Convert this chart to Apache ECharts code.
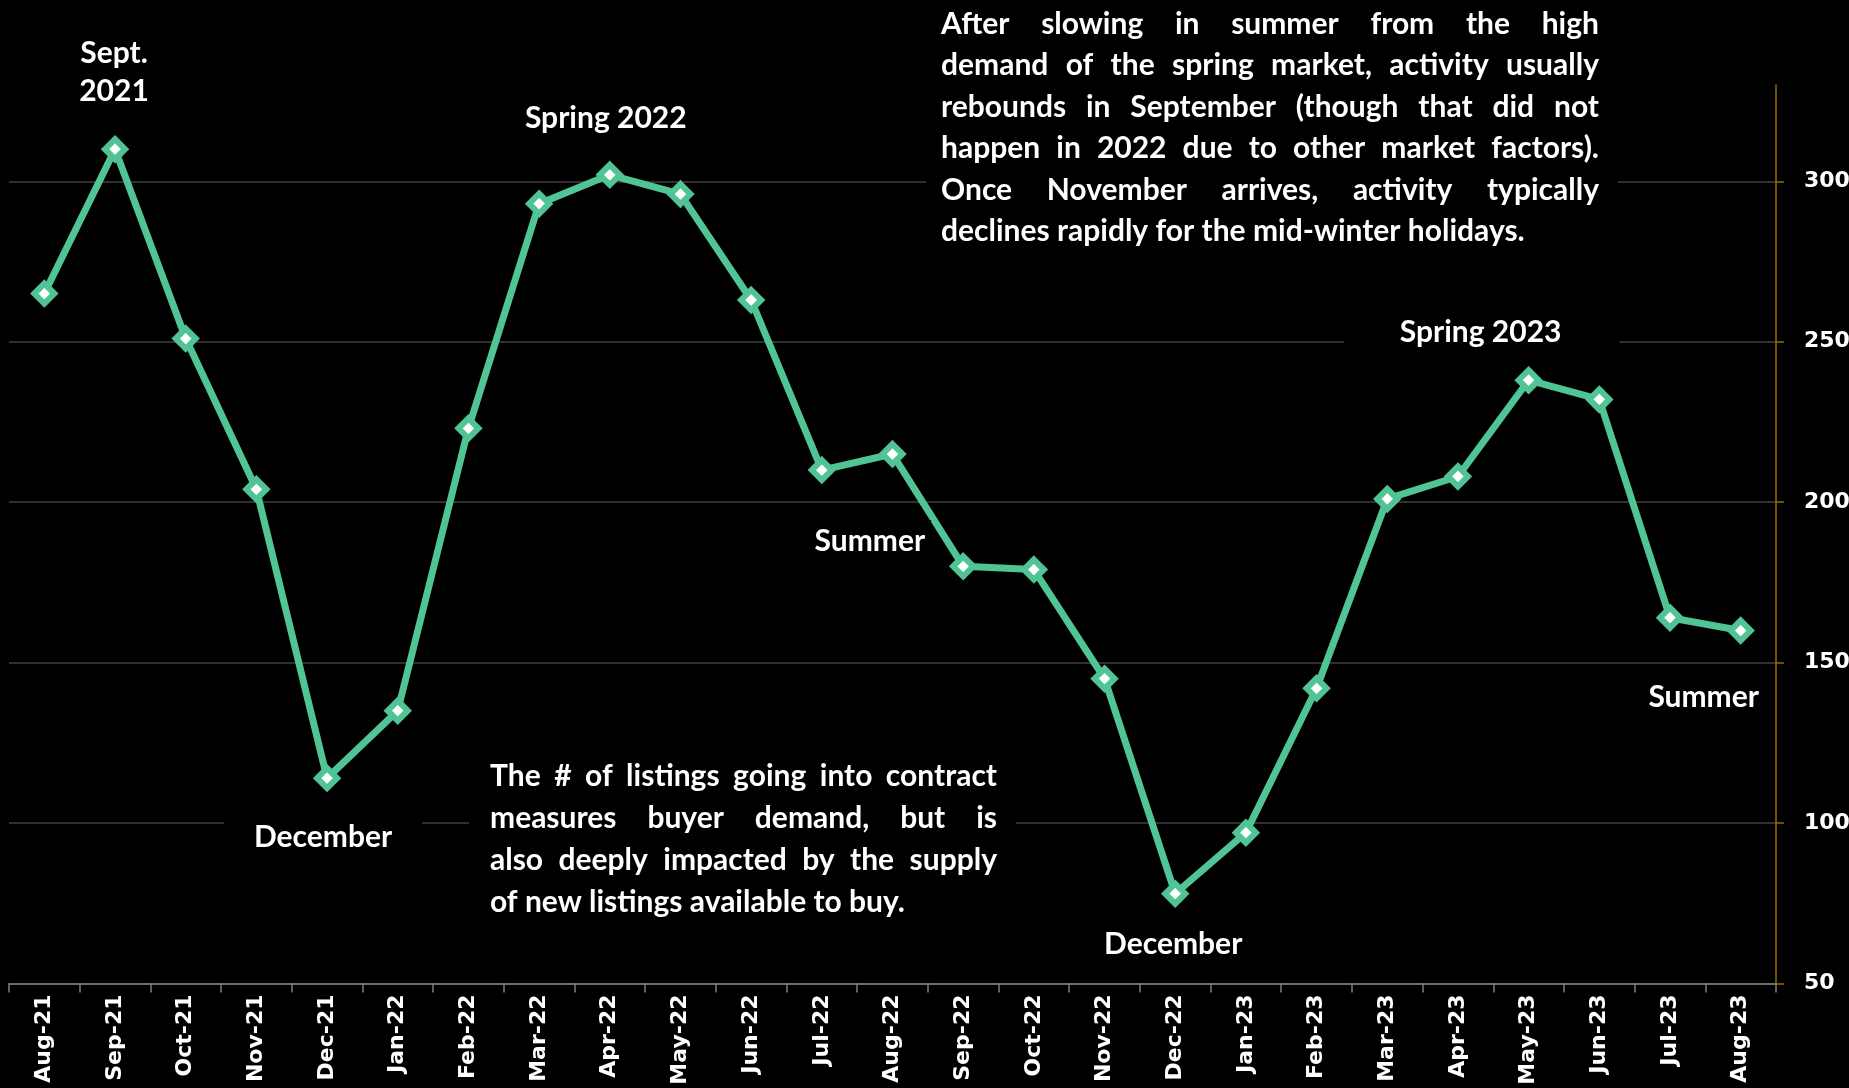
<!DOCTYPE html>
<html>
<head>
<meta charset="utf-8">
<title>Listings going into contract</title>
<script src="https://cdn.jsdelivr.net/npm/echarts@6.0.0/dist/echarts.min.js"></script>
<style>
  html, body { margin: 0; padding: 0; background: #000; }
  #chart { width: 1849px; height: 1088px; }
</style>
</head>
<body>
<div id="chart"></div>
<script>
// Monthly count of listings going into contract
const months = ['Aug-21', 'Sep-21', 'Oct-21', 'Nov-21', 'Dec-21', 'Jan-22', 'Feb-22', 'Mar-22',
  'Apr-22', 'May-22', 'Jun-22', 'Jul-22', 'Aug-22', 'Sep-22', 'Oct-22', 'Nov-22', 'Dec-22',
  'Jan-23', 'Feb-23', 'Mar-23', 'Apr-23', 'May-23', 'Jun-23', 'Jul-23', 'Aug-23'];
const contracts = [265, 310, 251, 204, 114, 135, 223, 293, 302, 296, 263, 210, 215, 180, 179,
  145, 78, 97, 142, 201, 208, 238, 232, 164, 160];
const yTicks = [50, 100, 150, 200, 250, 300];

// Seasonal call-outs attached to individual months
const callouts = [
  { month: 'Sep-21', text: 'Sept.\n2021' },
  { month: 'Dec-21', text: 'December' },
  { month: 'Apr-22', text: 'Spring 2022' },
  { month: 'Jul-22', text: 'Summer' },
  { month: 'Dec-22', text: 'December' },
  { month: 'May-23', text: 'Spring 2023' },
  { month: 'Aug-23', text: 'Summer' }
];

const noteTop = [
  'After slowing in summer from the high',
  'demand of the spring market, activity usually',
  'rebounds in September (though that did not',
  'happen in 2022 due to other market factors).',
  'Once November arrives, activity typically',
  'declines rapidly for the mid-winter holidays.'
];
const noteBottom = [
  'The # of listings going into contract',
  'measures buyer demand, but is',
  'also deeply impacted by the supply',
  'of new listings available to buy.'
];

// Label placement relative to each point (pixels), plus box padding
const calloutLayout = {
  'Sep-21': { offset: [-1, -77], padding: [2, 6, 2, 6] },
  'Dec-21': { offset: [-4, 59], padding: [4, 30, 4, 30] },
  'Apr-22': { offset: [-4, -57], padding: [2, 6, 2, 6] },
  'Jul-22': { offset: [48, 71], padding: [2, 6, 2, 6] },
  'Dec-22': { offset: [-2, 51], padding: [2, 6, 2, 6] },
  'May-23': { offset: [-47, -48], padding: [4, 58, 4, 56] },
  'Aug-23': { offset: [-37, 67], padding: [2, 6, 2, 6] }
};

const GREEN = '#50C494';
const TEXT_FONT = 'Lato';
const TEXT_SIZE = 30;

const seriesData = contracts.map(function (v, i) {
  const c = callouts.find(function (d) { return d.month === months[i]; });
  if (!c) return v;
  const lay = calloutLayout[c.month];
  return {
    value: v,
    label: {
      show: true,
      position: 'inside',
      formatter: c.text,
      offset: lay.offset,
      padding: lay.padding,
      backgroundColor: '#000',
      color: '#fff',
      fontFamily: TEXT_FONT,
      fontWeight: 'bold',
      fontSize: TEXT_SIZE,
      lineHeight: 38,
      align: 'center',
      verticalAlign: 'middle'
    }
  };
});

// Justified paragraph built word by word
const measureCtx = document.createElement('canvas').getContext('2d');
function paragraph(lines, left, width, firstY, lineGap) {
  const font = 'bold ' + TEXT_SIZE + 'px ' + TEXT_FONT;
  measureCtx.font = font;
  const spaceW = measureCtx.measureText(' ').width;
  const els = [];
  lines.forEach(function (line, li) {
    const words = line.split(' ');
    const widths = words.map(function (w) { return measureCtx.measureText(w).width; });
    const total = widths.reduce(function (a, b) { return a + b; }, 0);
    const last = li === lines.length - 1;
    const gap = (!last && words.length > 1) ? (width - total) / (words.length - 1) : spaceW;
    let x = left;
    const y = firstY + li * lineGap;
    words.forEach(function (w, wi) {
      els.push({
        type: 'text', z: 2,
        style: { text: w, x: x, y: y, font: font, fill: '#fff', textVerticalAlign: 'middle' }
      });
      x += widths[wi] + gap;
    });
  });
  return els;
}

const graphics = [
  { type: 'rect', z: 1, shape: { x: 926, y: 0, width: 692, height: 258 }, style: { fill: '#000' } },
  { type: 'rect', z: 1, shape: { x: 469, y: 745, width: 547, height: 185 }, style: { fill: '#000' } }
].concat(paragraph(noteTop, 941, 658, 24, 41.5))
 .concat(paragraph(noteBottom, 490, 507, 776, 42));

const chart = echarts.init(document.getElementById('chart'));
chart.setOption({
  backgroundColor: '#000',
  animation: false,
  grid: { left: 9, right: 73, top: 85, bottom: 104.5, containLabel: false, outerBoundsMode: 'none' },
  xAxis: {
    type: 'category',
    data: months,
    boundaryGap: true,
    axisLine: { lineStyle: { color: '#808080', width: 1.5 } },
    axisTick: { show: true, length: 9, interval: 0, lineStyle: { color: '#808080', width: 1.5 } },
    axisLabel: {
      interval: 0, rotate: 90, margin: 11,
      color: '#fff', fontFamily: 'DejaVu Sans', fontWeight: 'bold', fontSize: 22
    },
    splitLine: { show: false }
  },
  yAxis: {
    type: 'value',
    position: 'right',
    min: 50, max: 330, interval: 50,
    axisLine: { show: true, lineStyle: { color: '#9A6A00', width: 1.5 } },
    axisTick: { show: true, length: 8, lineStyle: { color: '#9A6A00', width: 1.5 } },
    axisLabel: {
      showMaxLabel: false, margin: 28,
      formatter: function (v) { return yTicks.indexOf(v) >= 0 ? String(v) : ''; },
      color: '#fff', fontFamily: 'DejaVu Sans', fontWeight: 'bold', fontSize: 22
    },
    splitLine: { show: true, showMaxLine: false, lineStyle: { color: '#404040', width: 1.5 } }
  },
  series: [{
    type: 'line',
    data: seriesData,
    symbol: 'diamond',
    symbolSize: 20,
    lineStyle: { color: GREEN, width: 7, join: 'round', cap: 'round' },
    itemStyle: { color: '#fff', borderColor: GREEN, borderWidth: 6 },
    emphasis: { disabled: true },
    z: 3
  }],
  graphic: { elements: graphics }
});
</script>
</body>
</html>
